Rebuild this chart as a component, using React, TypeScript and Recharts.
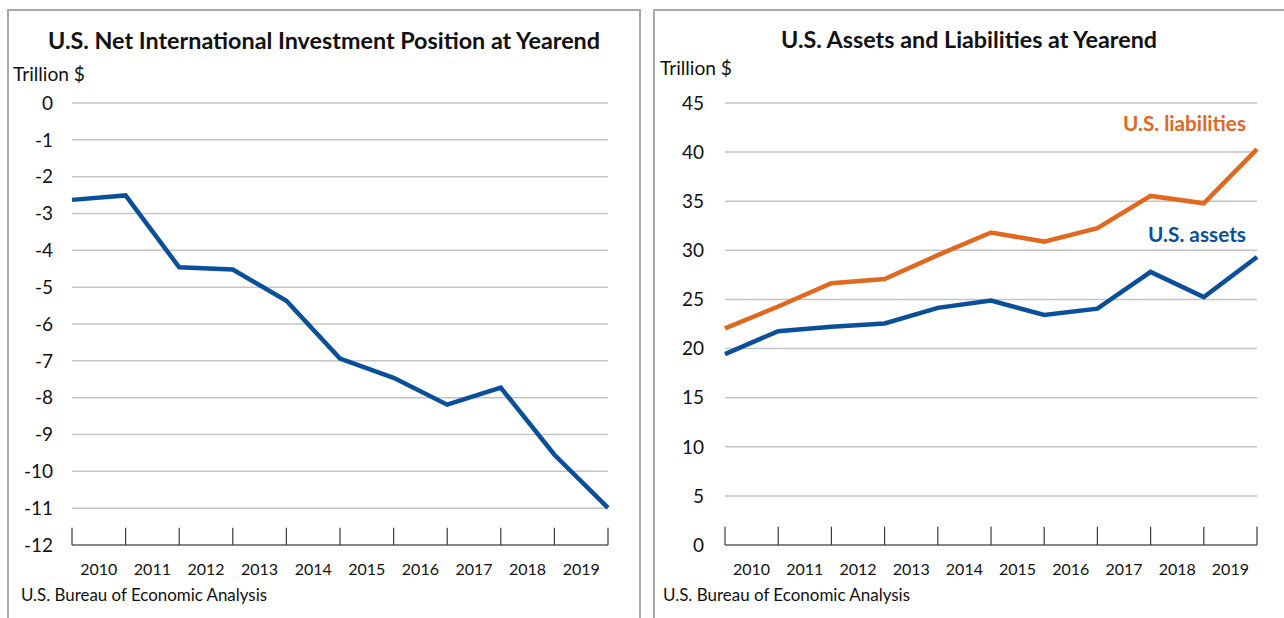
import React from 'react';
import { LineChart, Line, XAxis, YAxis, CartesianGrid, ReferenceLine } from 'recharts';

// Year-end points (2009 yearend through 2019 yearend); labels sit between tick marks
const yearEnds = [2009, 2010, 2011, 2012, 2013, 2014, 2015, 2016, 2017, 2018, 2019];
const yearLabels = ['2010', '2011', '2012', '2013', '2014', '2015', '2016', '2017', '2018', '2019'];

const netPosition = [-2.63, -2.51, -4.46, -4.52, -5.37, -6.94, -7.46, -8.19, -7.73, -9.55, -10.99];
const usAssets = [19.43, 21.77, 22.21, 22.56, 24.14, 24.88, 23.43, 24.06, 27.8, 25.24, 29.32];
const usLiabilities = [22.06, 24.28, 26.66, 27.08, 29.51, 31.82, 30.89, 32.25, 35.54, 34.79, 40.31];

const leftTicks = [-12, -11, -10, -9, -8, -7, -6, -5, -4, -3, -2, -1, 0];
const rightTicks = [0, 5, 10, 15, 20, 25, 30, 35, 40, 45];

const leftTitle = 'U.S. Net International Investment Position at Yearend';
const rightTitle = 'U.S. Assets and Liabilities at Yearend';
const unitLabel = 'Trillion $';
const sourceLabel = 'U.S. Bureau of Economic Analysis';
const liabLabel = 'U.S. liabilities';
const assetLabel = 'U.S. assets';

const BLUE = '#0a4f99';
const ORANGE = '#e0681f';
const GRID = '#c4c4c4';
const AXIS = '#3a3a3a';
const BORDER = '#a8a8a8';
const FONT = 'Lato, "Noto Sans", sans-serif';

const leftData = yearEnds.map((y, i) => ({ year: y, niip: netPosition[i] }));
const rightData = yearEnds.map((y, i) => ({ year: y, assets: usAssets[i], liabilities: usLiabilities[i] }));
const labelTicks = yearLabels.map((l) => Number(l) - 0.5);
const fmtYear = (v: number) => String(Math.round(v + 0.5));

export default function App() {
  return (
    <div
      style={{
        position: 'absolute',
        left: 0,
        top: 0,
        width: 1284,
        height: 618,
        overflow: 'hidden',
        background: '#fff',
        fontFamily: FONT,
      }}
    >
      <div
        style={{
          position: 'absolute',
          left: 7,
          top: 9,
          width: 634,
          height: 640,
          border: `2px solid ${BORDER}`,
          boxSizing: 'border-box',
        }}
      />
      <div
        style={{
          position: 'absolute',
          left: 653,
          top: 9,
          width: 660,
          height: 640,
          border: `2px solid ${BORDER}`,
          boxSizing: 'border-box',
        }}
      />

      <div style={{ position: 'absolute', left: 0, top: 0 }}>
        <LineChart width={641} height={618} data={leftData} margin={{ top: 103, right: 33, bottom: 33, left: 12 }}>
          <CartesianGrid vertical={false} stroke={GRID} strokeWidth={1.5} />
          <XAxis
            dataKey="year"
            type="number"
            domain={[2009, 2019]}
            ticks={labelTicks}
            tickFormatter={fmtYear}
            interval={0}
            height={40}
            tickLine={false}
            tickSize={0}
            tickMargin={19}
            axisLine={{ stroke: AXIS, strokeWidth: 1.2 }}
            tick={{ fill: '#111', fontSize: 16 }}
          />
          <YAxis
            type="number"
            domain={[-12, 0]}
            ticks={leftTicks}
            interval={0}
            width={60}
            axisLine={false}
            tickLine={false}
            tickSize={0}
            tickMargin={19}
            tick={{ fill: '#111', fontSize: 19 }}
          />
          {yearEnds.map((y) => (
            <ReferenceLine
              key={y}
              segment={[
                { x: y, y: -12 },
                { x: y, y: -11.53 },
              ]}
              stroke={AXIS}
              strokeWidth={1.2}
            />
          ))}
          <Line
            type="linear"
            dataKey="niip"
            stroke={BLUE}
            strokeWidth={4.5}
            dot={false}
            isAnimationActive={false}
          />
        </LineChart>
      </div>

      <div style={{ position: 'absolute', left: 641, top: 0 }}>
        <LineChart width={643} height={618} data={rightData} margin={{ top: 103, right: 27, bottom: 33, left: 24 }}>
          <CartesianGrid vertical={false} stroke={GRID} strokeWidth={1.5} />
          <XAxis
            dataKey="year"
            type="number"
            domain={[2009, 2019]}
            ticks={labelTicks}
            tickFormatter={fmtYear}
            interval={0}
            height={40}
            tickLine={false}
            tickSize={0}
            tickMargin={19}
            axisLine={{ stroke: AXIS, strokeWidth: 1.2 }}
            tick={{ fill: '#111', fontSize: 16 }}
          />
          <YAxis
            type="number"
            domain={[0, 45]}
            ticks={rightTicks}
            interval={0}
            width={60}
            axisLine={false}
            tickLine={false}
            tickSize={0}
            tickMargin={21}
            tick={{ fill: '#111', fontSize: 19 }}
          />
          {yearEnds.map((y) => (
            <ReferenceLine
              key={y}
              segment={[
                { x: y, y: 0 },
                { x: y, y: 1.85 },
              ]}
              stroke={AXIS}
              strokeWidth={1.2}
            />
          ))}
          <Line
            type="linear"
            dataKey="liabilities"
            stroke={ORANGE}
            strokeWidth={4.5}
            dot={false}
            isAnimationActive={false}
          />
          <Line
            type="linear"
            dataKey="assets"
            stroke={BLUE}
            strokeWidth={4.5}
            dot={false}
            isAnimationActive={false}
          />
        </LineChart>
      </div>

      <svg
        width={1284}
        height={618}
        style={{ position: 'absolute', left: 0, top: 0, pointerEvents: 'none', fontFamily: FONT }}
      >
        <text x={48} y={49} fontSize={22} fontWeight={700} fill="#111" textLength={552} lengthAdjust="spacingAndGlyphs">
          {leftTitle}
        </text>
        <text x={781} y={48} fontSize={22} fontWeight={700} fill="#111" textLength={376} lengthAdjust="spacingAndGlyphs">
          {rightTitle}
        </text>
        <text x={13} y={81} fontSize={19} fill="#111" textLength={72} lengthAdjust="spacingAndGlyphs">
          {unitLabel}
        </text>
        <text x={660} y={75} fontSize={19} fill="#111" textLength={72} lengthAdjust="spacingAndGlyphs">
          {unitLabel}
        </text>
        <text x={21} y={601} fontSize={16.5} fill="#111" textLength={246} lengthAdjust="spacingAndGlyphs">
          {sourceLabel}
        </text>
        <text x={663} y={601} fontSize={16.5} fill="#111" textLength={247} lengthAdjust="spacingAndGlyphs">
          {sourceLabel}
        </text>
        <text x={1123} y={131} fontSize={20.5} fontWeight={700} fill={ORANGE} textLength={123} lengthAdjust="spacingAndGlyphs">
          {liabLabel}
        </text>
        <text x={1148} y={242} fontSize={20.5} fontWeight={700} fill={BLUE} textLength={98} lengthAdjust="spacingAndGlyphs">
          {assetLabel}
        </text>
      </svg>
    </div>
  );
}
